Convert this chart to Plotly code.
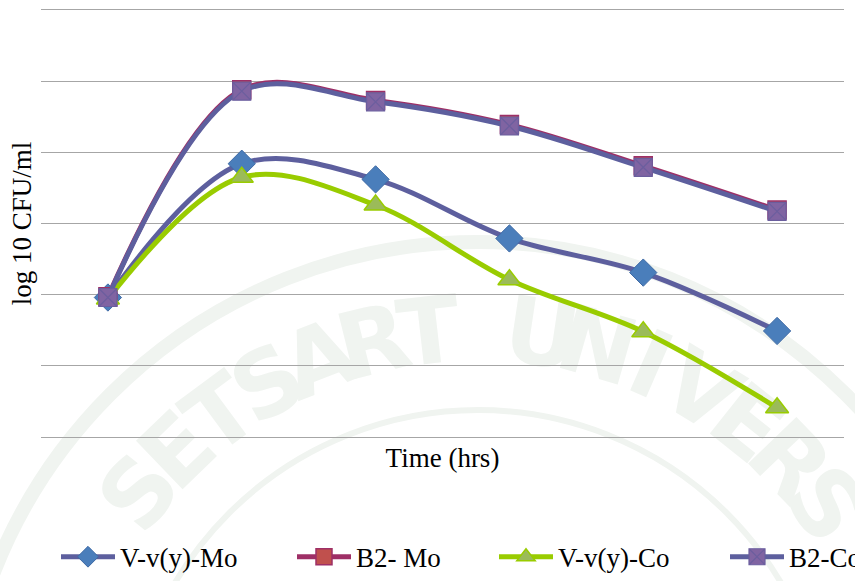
import math
import plotly.graph_objects as go

# Sampling times (category positions along the x axis)
time_points = ["0", "1", "2", "3", "4", "5"]

# log10 CFU/ml for each culture
v_vy_mo = [1.96, 3.84, 3.62, 2.79, 2.31, 1.49]
b2_mo = [1.97, 4.88, 4.73, 4.39, 3.81, 3.19]
v_vy_co = [1.94, 3.65, 3.26, 2.21, 1.48, 0.41]
b2_co = [1.96, 4.86, 4.71, 4.37, 3.79, 3.17]

series_names = ["V-v(y)-Mo", "B2- Mo", "V-v(y)-Co", "B2-Co"]

W, H = 855, 581
L, R, T, B = 41, 11, 10, 144
PW, PH = W - L - R, H - T - B

SERIF = "Liberation Serif, Times New Roman, serif"

xs = list(range(len(time_points)))

styles = [
    dict(line=dict(color="#5D5F9E", width=5),
         marker=dict(symbol="diamond", size=21, color="#4A7EBB",
                     line=dict(color="#3F6AA5", width=1))),
    dict(line=dict(color="#9E2F66", width=5),
         marker=dict(symbol="square", size=18, color="#C0504D",
                     line=dict(color="#9E2F66", width=1.5))),
    dict(line=dict(color="#99CC00", width=5),
         marker=dict(symbol="triangle-up", size=20, color="#9BBB59",
                     line=dict(color="#99CC00", width=1.5))),
    dict(line=dict(color="#5D5F9E", width=5),
         marker=dict(symbol="square-x", size=18, color="#8064A2",
                     line=dict(color="#6B5E9E", width=1.2))),
]

fig = go.Figure()
legend_ids = ["legend", "legend2", "legend3", "legend4"]
for name, ys, st, lg in zip(series_names, [v_vy_mo, b2_mo, v_vy_co, b2_co],
                            styles, legend_ids):
    line = dict(st["line"], shape="spline", smoothing=1.0)
    fig.add_trace(go.Scatter(x=xs, y=ys, name=name, mode="lines+markers",
                             line=line, marker=st["marker"], legend=lg))

# Faint university seal in the background
def px_to_paper(px, py):
    return (px - L) / PW, (T + PH - py) / PH

seal_cx, seal_cy = 478, 762
seal_color = "#F0F4F0"
shapes = []
for r, w in [(520, 14), (352, 6)]:
    x0, y0 = px_to_paper(seal_cx - r, seal_cy + r)
    x1, y1 = px_to_paper(seal_cx + r, seal_cy - r)
    shapes.append(dict(type="circle", xref="paper", yref="paper",
                       x0=x0, y0=y0, x1=x1, y1=y1, layer="below",
                       line=dict(color=seal_color, width=w)))

seal_text = "SETSART UNIVERS"
start_deg, step_deg, letter_r = -51.5, 7.5, 440
for i, ch in enumerate(seal_text):
    if ch == " ":
        continue
    ang = start_deg + i * step_deg
    a = math.radians(ang)
    lx = seal_cx + letter_r * math.sin(a)
    ly = seal_cy - letter_r * math.cos(a)
    px, py = px_to_paper(lx, ly)
    shapes.append(dict(
        type="rect", xref="paper", yref="paper",
        x0=px - 0.001, x1=px + 0.001, y0=py - 0.001, y1=py + 0.001,
        layer="below", line=dict(width=0), fillcolor="rgba(0,0,0,0)",
        label=dict(text=ch, textangle=ang, textposition="middle center",
                   font=dict(family="DejaVu Sans", size=92, weight="bold",
                             color=seal_color)),
    ))

# One single-entry legend per series, laid out in a row under the chart
legend_left_px = [56, 292, 494, 725]
legend_common = dict(
    orientation="h", xref="container", yref="container",
    xanchor="left", y=0.041, yanchor="middle",
    font=dict(family=SERIF, size=27, color="black"),
    itemwidth=54, bgcolor="rgba(0,0,0,0)", itemclick=False,
)
legend_layout = {lg: dict(legend_common, x=lx / W)
                 for lg, lx in zip(legend_ids, legend_left_px)}

grid_color = "#A6A6A6"
fig.update_layout(
    width=W, height=H,
    margin=dict(l=L, r=R, t=T, b=B, autoexpand=False),
    paper_bgcolor="white",
    plot_bgcolor="rgba(0,0,0,0)",
    font=dict(family=SERIF, color="black"),
    shapes=shapes,
    showlegend=True,
    xaxis=dict(
        range=[-0.5, len(time_points) - 0.5],
        tickvals=xs, ticktext=time_points,
        showticklabels=False, showgrid=False, zeroline=False,
        showline=True, mirror=True, linecolor=grid_color, linewidth=1,
        ticks="",
        title=dict(text="Time (hrs)", standoff=11,
                   font=dict(family=SERIF, size=27, color="black")),
    ),
    yaxis=dict(
        range=[0, 6], dtick=1, tick0=0,
        showticklabels=False, showgrid=True, gridcolor=grid_color,
        gridwidth=1, zeroline=False, showline=False, ticks="",
        title=dict(text="log 10 CFU/ml", standoff=0,
                   font=dict(family=SERIF, size=27, color="black")),
    ),
    **legend_layout,
)

fig.write_html("out.html")
